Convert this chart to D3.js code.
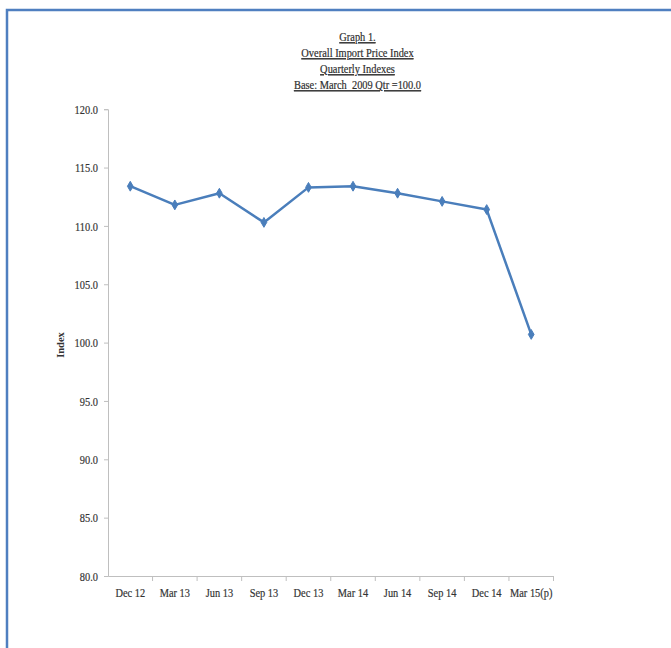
<!DOCTYPE html>
<html>
<head>
<meta charset="utf-8">
<script src="https://cdn.jsdelivr.net/npm/d3@7"></script>
<style>
html,body{margin:0;padding:0;background:#fff;}
svg{display:block;}
text{font-family:"Liberation Serif","DejaVu Serif",serif;}
</style>
</head>
<body>
<svg id="chart" width="671" height="648"></svg>
<script>
const categories = ["Dec 12","Mar 13","Jun 13","Sep 13","Dec 13","Mar 14","Jun 14","Sep 14","Dec 14","Mar 15(p)"];
const values = [113.4, 111.8, 112.8, 110.3, 113.3, 113.4, 112.8, 112.1, 111.4, 100.7];
const yTicks = [80, 85, 90, 95, 100, 105, 110, 115, 120];
const titleLines = ["Graph 1.", "Overall Import Price Index", "Quarterly Indexes", "Base: March  2009 Qtr =100.0"];
const yAxisTitle = "Index";

const svg = d3.select("#chart");
const W = 671, H = 648;
const m = {left:108, right:W-553.5, top:109.2, bottom:H-576};
const iw = W - m.left - m.right, ih = H - m.top - m.bottom;

// frame border
svg.append("rect").attr("x",0).attr("y",0).attr("width",W).attr("height",H).attr("fill","#fff");
svg.append("path").attr("d",`M7,${H+2} V10 H${W+2}`).attr("fill","none")
  .attr("stroke","#4f7fc0").attr("stroke-width",2.5);

const x = d3.scaleBand().domain(categories).range([m.left, m.left+iw]);
const y = d3.scaleLinear().domain([80,120]).range([m.top+ih, m.top]);

// title
const tg = svg.append("g");
titleLines.forEach((t,i)=>{
  tg.append("text")
    .attr("transform",`translate(357.5,${41+i*16}) scale(0.8,1)`)
    .attr("text-anchor","middle")
    .attr("font-size",13)
    .attr("fill","#2e2e2e")
    .attr("stroke","#2e2e2e").attr("stroke-width",0.2)
    .style("text-decoration","underline")
    .style("white-space","pre")
    .text(t);
});

// y axis
const ya = svg.append("g").attr("transform",`translate(${m.left},0)`)
  .call(d3.axisLeft(y).tickValues(yTicks).tickFormat(d3.format(".1f")).tickSize(4).tickPadding(6));
ya.select(".domain").attr("stroke","#bfbfbf").attr("stroke-width",1);
ya.selectAll(".tick line").attr("stroke","#bfbfbf");
ya.selectAll(".tick text").attr("font-size",13).attr("fill","#333")
  .attr("stroke","#333").attr("stroke-width",0.2)
  .attr("font-family","Liberation Serif, serif")
  .each(function(){ 
    const t=d3.select(this);
    t.attr("transform","scale(0.8,1)").attr("x", -10/0.8);
  });

// x axis
const xa = svg.append("g").attr("transform",`translate(0,${m.top+ih})`)
  .call(d3.axisBottom(x).tickSize(0).tickPadding(12));
xa.select(".domain").attr("stroke","#bfbfbf").attr("stroke-width",1);
xa.selectAll(".tick text").attr("font-size",13).attr("fill","#333")
  .attr("stroke","#333").attr("stroke-width",0.2)
  .attr("transform","scale(0.8,1)");
xa.selectAll(".tick").each(function(d){
  const cx = x(d)+x.bandwidth()/2;
  d3.select(this).attr("transform",`translate(${cx},0)`);
  d3.select(this).select("text").attr("x",0);
});
// category separator ticks
const sepPos = categories.map(c=>x(c)).concat([x(categories[categories.length-1])+x.bandwidth()]).slice(1);
svg.append("g").selectAll("line").data(sepPos).join("line")
  .attr("x1",d=>d).attr("x2",d=>d)
  .attr("y1",m.top+ih).attr("y2",m.top+ih+5)
  .attr("stroke","#bfbfbf");

// y axis title
svg.append("text")
  .attr("transform",`translate(64,345) rotate(-90)`)
  .attr("text-anchor","middle")
  .attr("font-size",10.5).attr("font-weight","bold").attr("fill","#333")
  .text(yAxisTitle);

// line
const pts = categories.map((c,i)=>({c, v:values[i]}));
const line = d3.line().x(d=>x(d.c)+x.bandwidth()/2).y(d=>y(d.v));
svg.append("path").datum(pts).attr("d",line)
  .attr("fill","none").attr("stroke","#4a7ebb").attr("stroke-width",2.5)
  .attr("stroke-linejoin","round");

const sym = d3.symbol().type(d3.symbolDiamond).size(28);
svg.append("g").selectAll("path").data(pts).join("path")
  .attr("d",sym)
  .attr("transform",d=>`translate(${x(d.c)+x.bandwidth()/2},${y(d.v)})`)
  .attr("fill","#4a7ebb").attr("stroke","#4a7ebb");
</script>
</body>
</html>
